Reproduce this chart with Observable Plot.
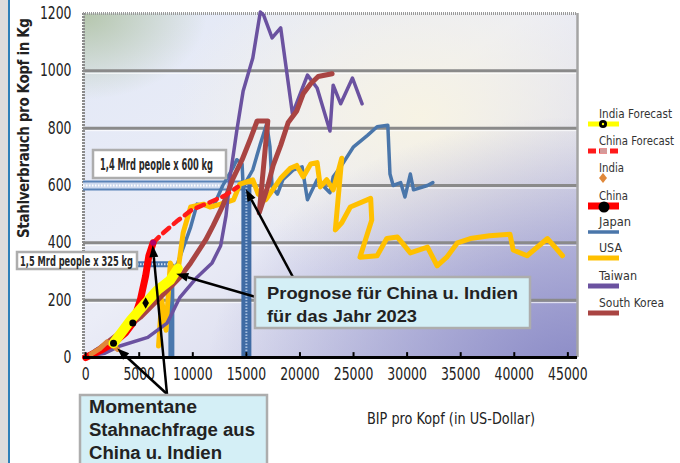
<!DOCTYPE html>
<html>
<head>
<meta charset="utf-8">
<script src="https://cdn.jsdelivr.net/npm/d3@7"></script>
<script src="https://cdn.jsdelivr.net/npm/@observablehq/plot@0.6"></script>
<style>
  html, body { margin: 0; padding: 0; background: #fff; }
  #chart { position: relative; width: 680px; height: 463px; overflow: hidden; }
</style>
</head>
<body>
<div id="chart"></div>
<script>
// Steel consumption per capita (kg) against GDP per capita (US-Dollar)

const xTicks = [0, 5000, 10000, 15000, 20000, 25000, 30000, 35000, 40000, 45000];
const yTicks = [0, 200, 400, 600, 800, 1000, 1200];
const gridValues = [200, 400, 600, 800, 1000];

const japanGdp = [900, 2800, 4400, 6000, 7400, 8600, 9800, 10400, 11900, 12800, 13800, 14100, 14600, 14700, 15600, 16300, 16900, 17200, 17400, 17900, 18400, 19400, 20200, 20700, 21600, 22800, 23100, 23800, 25000, 26300, 27200, 28200, 28400, 28700, 29400, 29800, 30300, 30600, 31900, 32400];
const japanSteel = [25, 65, 130, 180, 250, 330, 455, 535, 525, 600, 665, 690, 675, 595, 655, 745, 815, 735, 595, 570, 620, 655, 665, 550, 620, 575, 630, 665, 735, 775, 805, 810, 640, 600, 610, 560, 640, 585, 600, 610];

const usaGdp = [6800, 7100, 7500, 7900, 8500, 9100, 9800, 11000, 11600, 12600, 13800, 14400, 15600, 16100, 16800, 18200, 19100, 19700, 20300, 21000, 21600, 21900, 22500, 23100, 23900, 23300, 23900, 24700, 26600, 26700, 25600, 27200, 28100, 29100, 30300, 31900, 32800, 33700, 34700, 35900, 37700, 39600, 39900, 41200, 43100, 44500];
const usaSteel = [40, 200, 95, 330, 270, 435, 525, 535, 525, 535, 550, 605, 620, 570, 550, 625, 660, 670, 630, 675, 680, 595, 620, 585, 695, 445, 470, 525, 555, 480, 350, 355, 415, 420, 365, 385, 320, 350, 400, 415, 425, 430, 375, 355, 415, 355];

const taiwanGdp = [200, 1800, 3200, 5800, 7600, 8800, 10400, 11800, 12600, 13100, 13500, 14100, 14700, 15600, 16300, 16600, 17400, 18200, 19300, 20700, 21600, 22800, 23100, 23800, 24900, 25800];
const taiwanSteel = [5, 15, 40, 70, 120, 210, 280, 330, 390, 495, 635, 790, 930, 1045, 1205, 1195, 1115, 1150, 850, 985, 940, 790, 950, 885, 975, 885];

const koreaGdp = [0, 1400, 3500, 5100, 6700, 7900, 8800, 9800, 11200, 11900, 12800, 13700, 14600, 15400, 16000, 17000, 16200, 16900, 17500, 18200, 18900, 19700, 20300, 21000, 21700, 23000];
const koreaSteel = [0, 35, 95, 140, 200, 245, 280, 330, 410, 460, 530, 620, 690, 765, 825, 825, 505, 585, 670, 740, 820, 860, 920, 955, 980, 990];

const chinaGdp = [0, 1400, 2600, 3700, 4400, 5100, 5600, 5900, 6300];
const chinaSteel = [0, 25, 50, 85, 120, 200, 285, 355, 400];

const chinaForecastGdp = [6300, 7100, 8500, 9900, 11500, 13000, 14200];
const chinaForecastSteel = [400, 430, 475, 515, 540, 565, 595];

const indiaGdp = [500, 1300, 2000, 2600, 3000];
const indiaSteel = [12, 30, 55, 40, 28];

const indiaForecastGdp = [2600, 4200, 5600, 6700, 7900, 8600];
const indiaForecastSteel = [50, 130, 190, 235, 270, 310];

// reference targets: population x consumption per head
const targetGdp = [15000, 8000];
const targetSteel = [600, 325];
const targetLabels = ["1,4 Mrd people x 600 kg", "1,5 Mrd people x 325 kg"];

const seriesNames = ["India Forecast", "China Forecast", "India", "China", "Japan", "USA", "Taiwan", "South Korea"];
const seriesColors = ["#ffff00", "#ff1a1a", "#e0883a", "#ff0000", "#4a76aa", "#ffc000", "#6b52a0", "#a94442"];

const zip = (xs, ys) => xs.map((x, i) => ({gdp: x, steel: ys[i]}));
const japan = zip(japanGdp, japanSteel);
const usa = zip(usaGdp, usaSteel);
const taiwan = zip(taiwanGdp, taiwanSteel);
const korea = zip(koreaGdp, koreaSteel);
const china = zip(chinaGdp, chinaSteel);
const chinaForecast = zip(chinaForecastGdp, chinaForecastSteel);
const india = zip(indiaGdp, indiaSteel);
const indiaForecast = zip(indiaForecastGdp, indiaForecastSteel);
const targets = zip(targetGdp, targetSteel);

const color = Object.fromEntries(seriesNames.map((n, i) => [n, seriesColors[i]]));
const xDomain = [-200, 45900];
const narrow = "'Liberation Sans Narrow', 'DejaVu Sans Condensed', 'Roboto Condensed', sans-serif";

const plot = Plot.plot({
  width: 680,
  height: 463,
  marginLeft: 83,
  marginRight: 103,
  marginTop: 13,
  marginBottom: 106,
  style: {background: "transparent", fontFamily: narrow, fontSize: "17px", color: "#222", overflow: "visible"},
  x: {domain: xDomain},
  y: {domain: [0, 1200]},
  marks: [
    Plot.frame({fill: "url(#bgBase)", stroke: "none"}),
    Plot.frame({fill: "url(#bgCream)", stroke: "none"}),
    Plot.frame({fill: "url(#bgGreen)", stroke: "none"}),
    Plot.frame({fill: "url(#bgPurple)", stroke: "none"}),
    Plot.ruleY(gridValues, {stroke: "#8a8a8a", strokeWidth: 3}),
    Plot.ruleY(gridValues, {stroke: "#ffffff", strokeWidth: 1, strokeOpacity: 0.8, dy: 2.5}),
    Plot.ruleX([xDomain[0]], {stroke: "#8c8c8c", strokeWidth: 3, strokeDasharray: "2,1"}),
    Plot.ruleX([xDomain[1]], {stroke: "#a4a4a4", strokeWidth: 2.5}),
    Plot.ruleY([1200], {stroke: "#9a9a9a", strokeWidth: 3, strokeDasharray: "1,1"}),

    // reference bands for the 2023 targets
    Plot.ruleY(targets.slice(0, 1), {y: "steel", x1: xDomain[0], x2: "gdp", stroke: "#4a78b0", strokeWidth: 10, strokeOpacity: 0.9}),
    Plot.ruleY(targets.slice(0, 1), {y: "steel", x1: xDomain[0], x2: "gdp", stroke: "#cdd9ee", strokeWidth: 6}),
    Plot.ruleY(targets.slice(0, 1), {y: "steel", x1: xDomain[0], x2: "gdp", stroke: "#ffffff", strokeWidth: 2, strokeDasharray: "1.5,1.5"}),
    Plot.ruleX(targets.slice(0, 1), {x: "gdp", y1: 0, y2: "steel", stroke: "#3f6ba4", strokeWidth: 10}),
    Plot.ruleX(targets.slice(0, 1), {x: "gdp", y1: 0, y2: "steel", stroke: "#a8c0e0", strokeWidth: 2, strokeDasharray: "1.5,1.5"}),
    Plot.ruleY(targets.slice(1), {y: "steel", x1: xDomain[0], x2: "gdp", stroke: "#4a78b0", strokeWidth: 6}),
    Plot.ruleY(targets.slice(1), {y: "steel", x1: xDomain[0], x2: "gdp", stroke: "#d8e2f2", strokeWidth: 2, strokeDasharray: "1.5,1.5"}),
    Plot.ruleX(targets.slice(1), {x: "gdp", y1: 0, y2: "steel", stroke: "#4a78ae", strokeWidth: 6}),

    // country series
    Plot.line(japan, {x: "gdp", y: "steel", stroke: color["Japan"], strokeWidth: 3.5, strokeLinejoin: "round"}),
    Plot.line(usa, {x: "gdp", y: "steel", stroke: color["USA"], strokeWidth: 5, strokeLinejoin: "round"}),
    Plot.line(taiwan, {x: "gdp", y: "steel", stroke: color["Taiwan"], strokeWidth: 3.5, strokeLinejoin: "round"}),
    Plot.line(korea, {x: "gdp", y: "steel", stroke: color["South Korea"], strokeWidth: 5, strokeLinejoin: "round"}),
    Plot.line(chinaForecast, {x: "gdp", y: "steel", stroke: color["China Forecast"], strokeWidth: 4.5, strokeDasharray: "8,6"}),
    Plot.line(china, {x: "gdp", y: "steel", stroke: color["China"], strokeWidth: 7, strokeLinejoin: "round"}),
    Plot.line(india, {x: "gdp", y: "steel", stroke: color["India"], strokeWidth: 5, strokeLinejoin: "round"}),
    Plot.line(indiaForecast, {x: "gdp", y: "steel", stroke: color["India Forecast"], strokeWidth: 10, strokeLinejoin: "round"}),
    Plot.dot(china.filter((d, i) => i === 2 || i === 4), {x: "gdp", y: "steel", r: 3.5, fill: "#000"}),
    Plot.dot(indiaForecast.filter((d, i) => i === 2), {x: "gdp", y: "steel", r: 3.5, fill: "#000", symbol: "diamond"}),
    Plot.dot(chinaForecast.slice(0, 1), {x: "gdp", y: "steel", r: 3, fill: "#b0006a"}),

    // x axis
    Plot.ruleY([0], {stroke: "#000", strokeWidth: 3}),
    Plot.ruleX(xTicks, {y1: 0, y2: 17, stroke: "#000", strokeWidth: 2}),
    Plot.axisX({ticks: xTicks, tickSize: 0, tickPadding: 10, tickFormat: d => String(d), label: null, fontSize: 17}),
    Plot.axisY({ticks: yTicks, tickSize: 0, tickPadding: 12, tickFormat: d => String(d), label: null, fontSize: 17})
  ]
});

const svg = d3.select(plot);
const xs = plot.scale("x"), ys = plot.scale("y");
const px = v => xs.apply(v), py = v => ys.apply(v);

// condensed tick labels
svg.selectAll('g[aria-label="x-axis tick label"] text, g[aria-label="y-axis tick label"] text').each(function () {
  const n = this.textContent.length;
  d3.select(this).attr("textLength", n * 7.9).attr("lengthAdjust", "spacingAndGlyphs");
});

// background gradients for the plotting area
const defs = svg.insert("defs", ":first-child");
const lin = defs.append("linearGradient").attr("id", "bgBase").attr("x1", 0).attr("y1", 0).attr("x2", 1).attr("y2", 1);
[[0, "#e2e8f6"], [0.45, "#ebedf7"], [1, "#c9c9e4"]].forEach(([o, c]) => lin.append("stop").attr("offset", o).attr("stop-color", c));
const radial = (id, cx, cy, r, c, op) => {
  const g = defs.append("radialGradient").attr("id", id).attr("cx", cx).attr("cy", cy).attr("r", r);
  g.append("stop").attr("offset", 0).attr("stop-color", c).attr("stop-opacity", op);
  g.append("stop").attr("offset", 1).attr("stop-color", c).attr("stop-opacity", 0);
};
radial("bgCream", 0.68, 0.3, 0.5, "#f7f3e4", 1);
radial("bgGreen", 0.0, 0.0, 0.25, "#b2c4a8", 0.95);
radial("bgPurple", 1.0, 1.05, 0.75, "#8a8ac6", 1);

// page edge strip
svg.append("rect").attr("x", 0).attr("y", 0).attr("width", 8).attr("height", 463).attr("fill", "#dcdcdc");
svg.append("rect").attr("x", 8).attr("y", 0).attr("width", 2).attr("height", 463).attr("fill", "#2c7fb8");

// overlay layer for titles, callouts and legend
const ov = svg.append("g").attr("text-anchor", "start");

// axis titles
ov.append("text")
  .attr("transform", "translate(29,128) rotate(-90)")
  .attr("text-anchor", "middle")
  .attr("font-family", narrow).attr("font-weight", "bold").attr("font-size", 15).attr("fill", "#222")
  .attr("textLength", 220).attr("lengthAdjust", "spacing")
  .text("Stahlverbrauch pro Kopf in Kg");
ov.append("text")
  .attr("x", 451).attr("y", 424).attr("text-anchor", "middle")
  .attr("font-family", narrow).attr("font-size", 15.5).attr("fill", "#222")
  .attr("textLength", 168).attr("lengthAdjust", "spacingAndGlyphs")
  .text("BIP pro Kopf (in US-Dollar)");

// target labels
const labelBox = (x, y, w, h, fill) =>
  ov.append("rect").attr("x", x).attr("y", y).attr("width", w).attr("height", h)
    .attr("fill", fill).attr("stroke", "#adadad").attr("stroke-width", 2.5);
labelBox(93, 150, 133, 28, "#ffffff");
ov.append("text").attr("x", 100).attr("y", 170)
  .attr("font-family", narrow).attr("font-weight", "bold").attr("font-size", 16).attr("fill", "#2a2a2a")
  .attr("textLength", 113).attr("lengthAdjust", "spacingAndGlyphs").text(targetLabels[0]);
labelBox(17, 252, 120, 17, "#ffffff");
ov.append("text").attr("x", 20).attr("y", 265.5)
  .attr("font-family", narrow).attr("font-weight", "bold").attr("font-size", 13.5).attr("fill", "#2a2a2a")
  .attr("textLength", 113).attr("lengthAdjust", "spacingAndGlyphs").text(targetLabels[1]);

// arrows
const arrow = (x0, y0, x1, y1) => {
  const a = Math.atan2(y1 - y0, x1 - x0), L = 12, Wd = 4.5;
  const bx = x1 - L * Math.cos(a), by = y1 - L * Math.sin(a);
  ov.append("line").attr("x1", x0).attr("y1", y0).attr("x2", bx).attr("y2", by)
    .attr("stroke", "#000").attr("stroke-width", 2.5);
  ov.append("path")
    .attr("d", `M${x1},${y1}L${bx - Wd * Math.sin(a)},${by + Wd * Math.cos(a)}L${bx + Wd * Math.sin(a)},${by - Wd * Math.cos(a)}Z`)
    .attr("fill", "#000");
};
arrow(294, 279, px(15000), py(585));
arrow(256, 297, px(8500), py(290));
arrow(167, 394, px(3000), py(30));
arrow(167, 394, px(6300), py(390));

// callout boxes
const bold = "'Liberation Sans', Arial, sans-serif";
labelBox(255, 277, 275, 51, "#d4eff6");
[["Prognose für China u. Indien", 299, 251], ["für das Jahr 2023", 322, 150]].forEach(([t, y, len]) =>
  ov.append("text").attr("x", 267).attr("y", y)
    .attr("font-family", bold).attr("font-weight", "bold").attr("font-size", 16.5).attr("fill", "#222")
    .attr("textLength", len).attr("lengthAdjust", "spacingAndGlyphs").text(t));
labelBox(80, 395, 187, 80, "#d4eff6");
[["Momentane", 413, 108], ["Stahnachfrage aus", 436, 166], ["China u. Indien", 459, 133]].forEach(([t, y, len]) =>
  ov.append("text").attr("x", 89).attr("y", y)
    .attr("font-family", bold).attr("font-weight", "bold").attr("font-size", 17.5).attr("fill", "#222")
    .attr("textLength", len).attr("lengthAdjust", "spacingAndGlyphs").text(t));

// legend
const legendTop = [113, 140, 167, 195, 221, 247, 275, 302];
const legendWidths = [73, 75, 25, 29, 32, 23, 38, 65];
const legendSizes = [11.5, 11.5, 12.5, 12.5, 12.5, 12.5, 12.5, 12.5];
const lg = ov.append("g").attr("font-family", narrow).attr("fill", "#333");
seriesNames.forEach((name, i) => {
  const ty = legendTop[i];
  lg.append("text").attr("x", 599).attr("y", ty + 4.5).attr("font-size", legendSizes[i])
    .attr("textLength", legendWidths[i]).attr("lengthAdjust", "spacingAndGlyphs").text(name);
  const ly = ty + 11;
  if (name === "India") {
    lg.append("path").attr("d", `M603,${ly - 5}L607,${ly}L603,${ly + 5}L599,${ly}Z`).attr("fill", color[name]);
    return;
  }
  const w = name === "China" ? 7 : name === "India Forecast" ? 5 : name === "Japan" ? 3.5 : 5;
  lg.append("line").attr("x1", 588).attr("x2", 619).attr("y1", ly).attr("y2", ly)
    .attr("stroke", color[name]).attr("stroke-width", w)
    .attr("stroke-dasharray", name === "China Forecast" ? "8,3" : null);
  if (name === "India Forecast") {
    lg.append("circle").attr("cx", 603).attr("cy", ly).attr("r", 4).attr("fill", "#000");
    lg.append("circle").attr("cx", 603).attr("cy", ly).attr("r", 1.2).attr("fill", "#ffff00");
  } else if (name === "China") {
    lg.append("circle").attr("cx", 604).attr("cy", ly + 1).attr("r", 5.5).attr("fill", "#000");
  } else if (name === "China Forecast") {
    lg.append("rect").attr("x", 600).attr("y", ly - 2.5).attr("width", 7).attr("height", 5).attr("fill", "#d49a9a");
  }
});

document.getElementById("chart").appendChild(plot);
</script>
</body>
</html>
